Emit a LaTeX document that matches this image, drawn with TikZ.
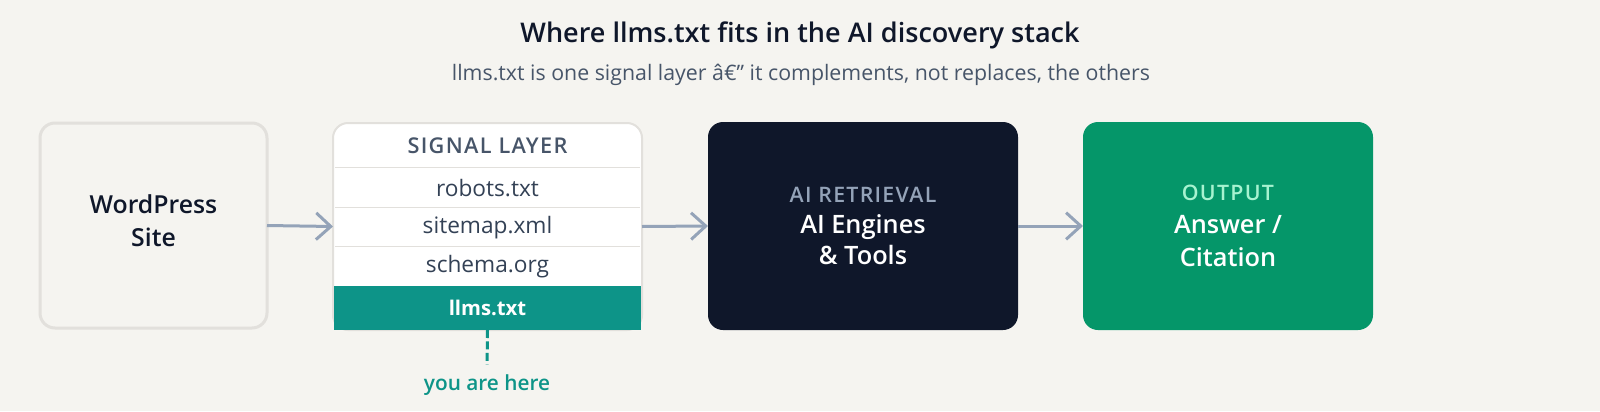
\documentclass[tikz,border=0pt]{standalone}
\usepackage{fontspec}
\setmainfont{Open Sans}
\IfFontExistsTF{Open Sans SemiBold}
  {\newfontfamily\semi{Open Sans SemiBold}}
  {\IfFontExistsTF{Open Sans Semibold}
    {\newfontfamily\semi{Open Sans Semibold}}
    {\newcommand{\semi}{\bfseries}}}
\usetikzlibrary{positioning,arrows.meta}

\definecolor{pagebg}{HTML}{F5F4F0}
\definecolor{edge}{HTML}{E2E0DC}
\definecolor{ink}{HTML}{0F172A}
\definecolor{slate}{HTML}{94A3B8}
\definecolor{muted}{HTML}{475569}
\definecolor{rowtext}{HTML}{334155}
\definecolor{teal}{HTML}{0D9488}
\definecolor{emerald}{HTML}{059669}
\definecolor{mint}{HTML}{A7F3D0}

\newcommand{\spaced}{\addfontfeatures{LetterSpace=6}}

\tikzset{
  stagebox/.style={minimum width=#1, minimum height=156pt, rounded corners=11.25pt,
    align=center, inner sep=0pt, outer sep=0pt},
  layerrow/.style={minimum width=228.75pt, minimum height=#1, inner sep=0pt,
    outer sep=0pt, font=\fontsize{17}{19}\selectfont, text=rowtext},
  flow/.style={slate, line width=2.25pt, -{Straight Barb[length=11pt,width=20pt,line width=2.25pt]}},
  rowsep/.style={edge, line width=1.2pt}
}

\begin{document}
\begin{tikzpicture}[x=0.75pt,y=-0.75pt]
  \fill[pagebg] (0,0) rectangle (1600,411);
  \useasboundingbox (0,0) rectangle (1600,411);

  % title and subtitle
  \node[text=ink, font=\fontsize{20.3}{23}\selectfont\semi] (title) at (800,35)
    {Where llms.txt fits in the AI discovery stack};
  \node[text=muted, font=\fontsize{16}{19}\selectfont] (subtitle) at (801,74.5)
    {llms.txt is one signal layer â€\char"201D{} it complements, not replaces, the others};

  % stage 1
  \node[stagebox=170.25pt, minimum height=153.75pt, fill=pagebg, draw=edge, line width=2.25pt]
    (site) at (153.5,225.5) {};
  \node[align=center, text=ink, font=\fontsize{18.6}{24.75}\selectfont\semi]
    (site-name) at ([yshift=3.5pt]site.center) {WordPress\\Site};

  % stage 2: the signal layer stack
  \node[minimum width=231.75pt, minimum height=155.25pt, rounded corners=11.25pt,
    fill=white, draw=edge, line width=1.5pt, inner sep=0pt, outer sep=0pt] (layer) at (487.5,226.5) {};
  \node[layerrow=33pt, below=0.5pt of layer.north, text=muted,
    font=\fontsize{16.3}{18}\selectfont\semi] (head) {\spaced SIGNAL LAYER};
  \node[layerrow=30pt, below=0pt of head] (robots) {robots.txt};
  \node[layerrow=29.25pt, below=0pt of robots] (sitemap) {sitemap.xml};
  \node[layerrow=29.25pt, below=0pt of sitemap] (schema) {schema.org};
  \node[layerrow=33.25pt, below=0pt of schema, fill=teal, text=white,
    font=\fontsize{15.2}{18}\selectfont\bfseries, minimum width=230.25pt] (llms) {llms.txt};
  \foreach \r in {robots,sitemap,schema}
    \draw[rowsep] (\r.north west) -- (\r.north east);

  % stage 3 and 4
  \node[stagebox=232.5pt, fill=ink, text=white, font=\fontsize{19}{23.2}\selectfont\semi]
    (engines) at (863,226)
    {{\color{slate}\fontsize{16}{23.2}\selectfont\spaced AI RETRIEVAL}\\AI Engines\\\& Tools};
  \node[stagebox=217.5pt, fill=emerald, text=white, font=\fontsize{19}{24.75}\selectfont\semi]
    (answer) at (1228,226)
    {{\color{mint}\fontsize{16}{24.75}\selectfont\spaced OUTPUT}\\Answer /\\Citation};

  % connectors
  \draw[flow] (site.east) -- (layer.west);
  \draw[flow] (layer.east) -- (engines.west);
  \draw[flow] (engines.east) -- (answer.west);

  % marker
  \node[text=teal, font=\fontsize{15.6}{18}\selectfont\semi] (here) at (487,385) {you are here};
  \draw[teal, line width=2.25pt, dash pattern=on 6pt off 2.6pt, shorten >=4pt] (llms.south) -- (here.north);
\end{tikzpicture}
\end{document}
